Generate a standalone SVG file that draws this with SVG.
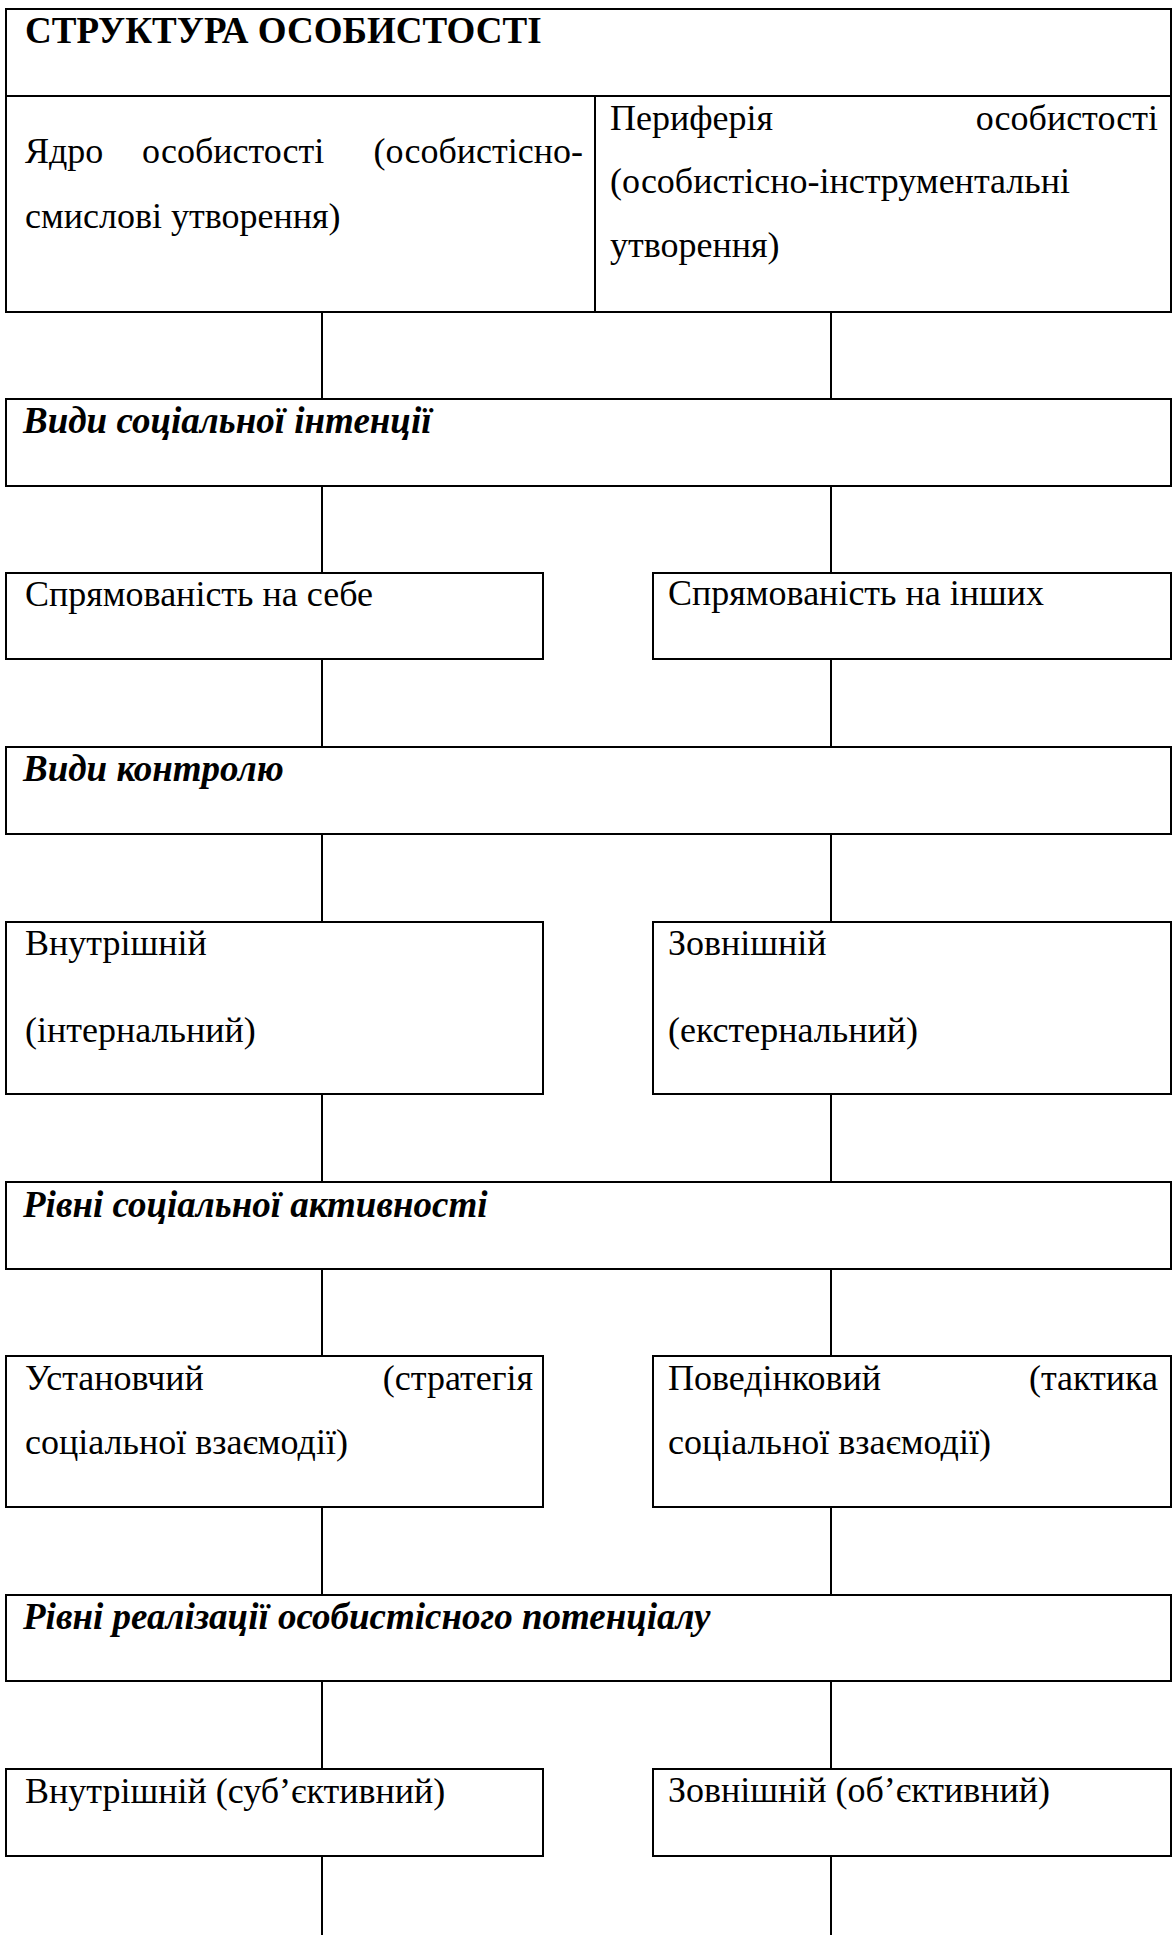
<svg xmlns="http://www.w3.org/2000/svg" width="1173" height="1935" viewBox="0 0 1173 1935">
<style>
rect.b{fill:#fff;stroke:#000;stroke-width:2}
line.c{stroke:#000;stroke-width:2}
text{font-family:"Liberation Serif","Times New Roman",serif;font-size:36px;fill:#000}
text.h{font-weight:bold;font-size:37px}
text.hi{font-weight:bold;font-style:italic;font-size:37px}
text.e{text-anchor:end}
</style>
<rect x="0" y="0" width="1173" height="1935" fill="#fff"/>
<g id="connectors">
<line class="c" x1="322" y1="312" x2="322" y2="399"/>
<line class="c" x1="831" y1="312" x2="831" y2="399"/>
<line class="c" x1="322" y1="486" x2="322" y2="573"/>
<line class="c" x1="831" y1="486" x2="831" y2="573"/>
<line class="c" x1="322" y1="659" x2="322" y2="747"/>
<line class="c" x1="831" y1="659" x2="831" y2="747"/>
<line class="c" x1="322" y1="834" x2="322" y2="922"/>
<line class="c" x1="831" y1="834" x2="831" y2="922"/>
<line class="c" x1="322" y1="1094" x2="322" y2="1182"/>
<line class="c" x1="831" y1="1094" x2="831" y2="1182"/>
<line class="c" x1="322" y1="1269" x2="322" y2="1356"/>
<line class="c" x1="831" y1="1269" x2="831" y2="1356"/>
<line class="c" x1="322" y1="1507" x2="322" y2="1595"/>
<line class="c" x1="831" y1="1507" x2="831" y2="1595"/>
<line class="c" x1="322" y1="1681" x2="322" y2="1769"/>
<line class="c" x1="831" y1="1681" x2="831" y2="1769"/>
<line class="c" x1="322" y1="1856" x2="322" y2="1935"/>
<line class="c" x1="831" y1="1856" x2="831" y2="1935"/>
</g>
<g id="structure">
<rect class="b" x="6" y="9" width="1165" height="303"/>
<line class="c" x1="6" y1="96" x2="1171" y2="96"/>
<line class="c" x1="595" y1="96" x2="595" y2="312"/>
<text class="h" x="25" y="43">СТРУКТУРА ОСОБИСТОСТІ</text>
</g>
<g id="core">
<text x="25" y="163">Ядро</text>
<text x="142" y="163">особистості</text>
<text class="e" x="583" y="163">(особистісно-</text>
<text x="25" y="228">смислові утворення)</text>
</g>
<g id="periphery">
<text x="610" y="130">Периферія</text>
<text class="e" x="1158" y="130">особистості</text>
<text x="610" y="193">(особистісно-інструментальні</text>
<text x="610" y="257">утворення)</text>
</g>
<g id="intention">
<rect class="b" x="6" y="399" width="1165" height="87"/>
<text class="hi" x="23" y="433">Види соціальної інтенції</text>
</g>
<g id="self">
<rect class="b" x="6" y="573" width="537" height="86"/>
<text x="25" y="606">Спрямованість на себе</text>
</g>
<g id="others">
<rect class="b" x="653" y="573" width="518" height="86"/>
<text x="668" y="605">Спрямованість на інших</text>
</g>
<g id="control">
<rect class="b" x="6" y="747" width="1165" height="87"/>
<text class="hi" x="23" y="781">Види контролю</text>
</g>
<g id="internal">
<rect class="b" x="6" y="922" width="537" height="172"/>
<text x="25" y="955">Внутрішній</text>
<text x="25" y="1042">(інтернальний)</text>
</g>
<g id="external">
<rect class="b" x="653" y="922" width="518" height="172"/>
<text x="668" y="955">Зовнішній</text>
<text x="668" y="1042">(екстернальний)</text>
</g>
<g id="activity">
<rect class="b" x="6" y="1182" width="1165" height="87"/>
<text class="hi" x="23" y="1217">Рівні соціальної активності</text>
</g>
<g id="attitude">
<rect class="b" x="6" y="1356" width="537" height="151"/>
<text x="25" y="1390">Установчий</text>
<text class="e" x="533" y="1390">(стратегія</text>
<text x="25" y="1454">соціальної взаємодії)</text>
</g>
<g id="behavior">
<rect class="b" x="653" y="1356" width="518" height="151"/>
<text x="668" y="1390">Поведінковий</text>
<text class="e" x="1158" y="1390">(тактика</text>
<text x="668" y="1454">соціальної взаємодії)</text>
</g>
<g id="potential">
<rect class="b" x="6" y="1595" width="1165" height="86"/>
<text class="hi" x="23" y="1629">Рівні реалізації особистісного потенціалу</text>
</g>
<g id="subjective">
<rect class="b" x="6" y="1769" width="537" height="87"/>
<text x="25" y="1803">Внутрішній (суб’єктивний)</text>
</g>
<g id="objective">
<rect class="b" x="653" y="1769" width="518" height="87"/>
<text x="668" y="1802">Зовнішній (об’єктивний)</text>
</g>
</svg>
